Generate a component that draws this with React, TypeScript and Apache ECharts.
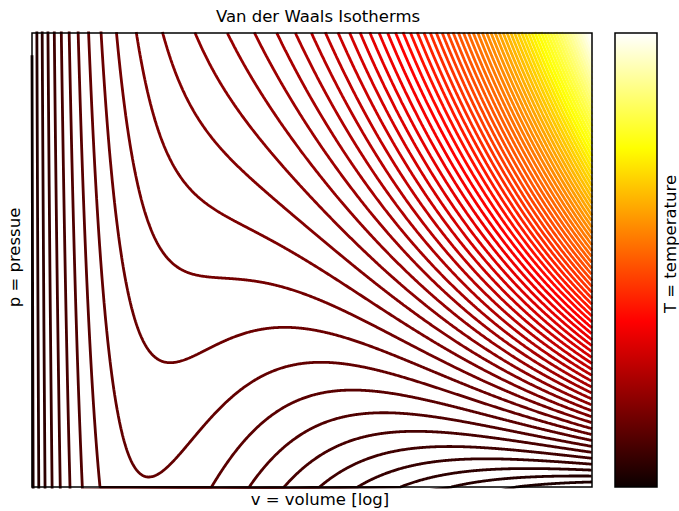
import { useEffect, useRef } from "react";
import * as echarts from "echarts";

// Van der Waals equation of state (reduced units): p = R*T/(v - b) - a/v^2
const VDW_A = [3];
const VDW_B = [1 / 3];
const GAS_R = [8 / 3];

// isotherm temperatures (contour levels)
const TEMPERATURE_LEVELS = [
  0.05, 0.13, 0.21, 0.29, 0.37, 0.45, 0.53, 0.61, 0.69, 0.77,
  0.85, 0.93, 1.01, 1.09, 1.17, 1.25, 1.33, 1.41, 1.49, 1.57,
  1.65, 1.73, 1.81, 1.89, 1.97, 2.05, 2.13, 2.21, 2.29, 2.37,
  2.45, 2.53, 2.61, 2.69, 2.77, 2.85, 2.93, 3.01, 3.09, 3.17,
  3.25, 3.33, 3.41, 3.49, 3.57, 3.65, 3.73, 3.81, 3.89, 3.97,
  4.05, 4.13, 4.21, 4.29, 4.37, 4.45, 4.53, 4.61, 4.69, 4.77,
  4.85, 4.93, 5.01, 5.09, 5.17, 5.25, 5.33, 5.41, 5.49, 5.57,
  5.65, 5.73, 5.81, 5.89, 5.97, 6.05, 6.13, 6.21,
];

// axis ranges
const VOLUME_RANGE = [0.3549, 7.57];
const PRESSURE_RANGE = [0, 2.259];
const VOLUME_SAMPLE_COUNT = [1500];

const TITLE = "Van der Waals Isotherms";
const X_LABEL = "v = volume [log]";
const Y_LABEL = "p = pressue";
const CBAR_LABEL = "T = temperature";

function hot(t: number): string {
  const k1 = 0.365079;
  const k2 = 0.746032;
  const r = t < k1 ? 0.0416 + (1 - 0.0416) * (t / k1) : 1;
  const g = t < k1 ? 0 : t < k2 ? (t - k1) / (k2 - k1) : 1;
  const b = t < k2 ? 0 : (t - k2) / (1 - k2);
  const c = (x: number) => Math.round(Math.max(0, Math.min(1, x)) * 255);
  return `rgb(${c(r)},${c(g)},${c(b)})`;
}

function buildSeries() {
  const [vMin, vMax] = VOLUME_RANGE;
  const [pMin, pMax] = PRESSURE_RANGE;
  const n = VOLUME_SAMPLE_COUNT[0];
  const lnMin = Math.log(vMin);
  const lnMax = Math.log(vMax);
  const vs: number[] = [];
  for (let i = 0; i < n; i++) vs.push(Math.exp(lnMin + ((lnMax - lnMin) * i) / (n - 1)));
  const a = VDW_A[0];
  const b = VDW_B[0];
  const R = GAS_R[0];
  const tLo = TEMPERATURE_LEVELS[0];
  const tHi = TEMPERATURE_LEVELS[TEMPERATURE_LEVELS.length - 1];
  return TEMPERATURE_LEVELS.map((T) => {
    const ps = vs.map((v) => (R * T) / (v - b) - a / (v * v));
    const inR = (i: number) => i >= 0 && i < n && ps[i] >= pMin && ps[i] <= pMax;
    const data: number[][] = [];
    for (let i = 0; i < n; i++) {
      if (inR(i) || inR(i - 1) || inR(i + 1)) data.push([vs[i], ps[i]]);
    }
    return {
      type: "line",
      data,
      symbol: "none",
      showSymbol: false,
      silent: true,
      clip: true,
      lineStyle: { color: hot((T - tLo) / (tHi - tLo)), width: 2.8 },
    };
  });
}

export default function App() {
  const ref = useRef<HTMLDivElement>(null);
  useEffect(() => {
    if (!ref.current) return;
    const chart = echarts.init(ref.current, undefined, { renderer: "svg" });
    const font = "'DejaVu Sans', sans-serif";
    const hidden = {
      axisLine: { show: false },
      axisTick: { show: false },
      axisLabel: { show: false },
      splitLine: { show: false },
    };
    chart.setOption({
      animation: false,
      backgroundColor: "#ffffff",
      grid: { left: 32, top: 33, width: 560, height: 454, show: false },
      xAxis: { type: "log", min: VOLUME_RANGE[0], max: VOLUME_RANGE[1], ...hidden },
      yAxis: { type: "value", min: PRESSURE_RANGE[0], max: PRESSURE_RANGE[1], ...hidden },
      series: buildSeries(),
      graphic: [
        {
          type: "rect",
          z: 100,
          shape: { x: 32, y: 33, width: 560, height: 454 },
          style: { fill: "none", stroke: "#000", lineWidth: 1.5 },
          silent: true,
        },
        {
          type: "rect",
          z: 100,
          shape: { x: 615, y: 33, width: 42, height: 454 },
          style: {
            fill: {
              type: "linear",
              x: 0,
              y: 1,
              x2: 0,
              y2: 0,
              colorStops: [
                { offset: 0, color: "rgb(11,0,0)" },
                { offset: 0.365079, color: "rgb(255,0,0)" },
                { offset: 0.746032, color: "rgb(255,255,0)" },
                { offset: 1, color: "rgb(255,255,255)" },
              ],
            },
            stroke: "#000",
            lineWidth: 1.5,
          },
          silent: true,
        },
        {
          type: "text",
          z: 100,
          x: 318,
          y: 16,
          style: { text: TITLE, font: `16.5px ${font}`, fill: "#000", align: "center", verticalAlign: "middle" },
        },
        {
          type: "text",
          z: 100,
          x: 320,
          y: 499.5,
          style: { text: X_LABEL, font: `16.5px ${font}`, fill: "#000", align: "center", verticalAlign: "middle" },
        },
        {
          type: "text",
          z: 100,
          x: 14.5,
          y: 257.5,
          rotation: Math.PI / 2,
          style: { text: Y_LABEL, font: `16.5px ${font}`, fill: "#000", align: "center", verticalAlign: "middle" },
        },
        {
          type: "text",
          z: 100,
          x: 670.5,
          y: 244,
          rotation: Math.PI / 2,
          style: { text: CBAR_LABEL, font: `16.5px ${font}`, fill: "#000", align: "center", verticalAlign: "middle" },
        },
      ],
    });
    return () => chart.dispose();
  }, []);
  return (
    <div
      ref={ref}
      style={{ position: "absolute", left: 0, top: 0, width: 679, height: 511, background: "#fff" }}
    />
  );
}
